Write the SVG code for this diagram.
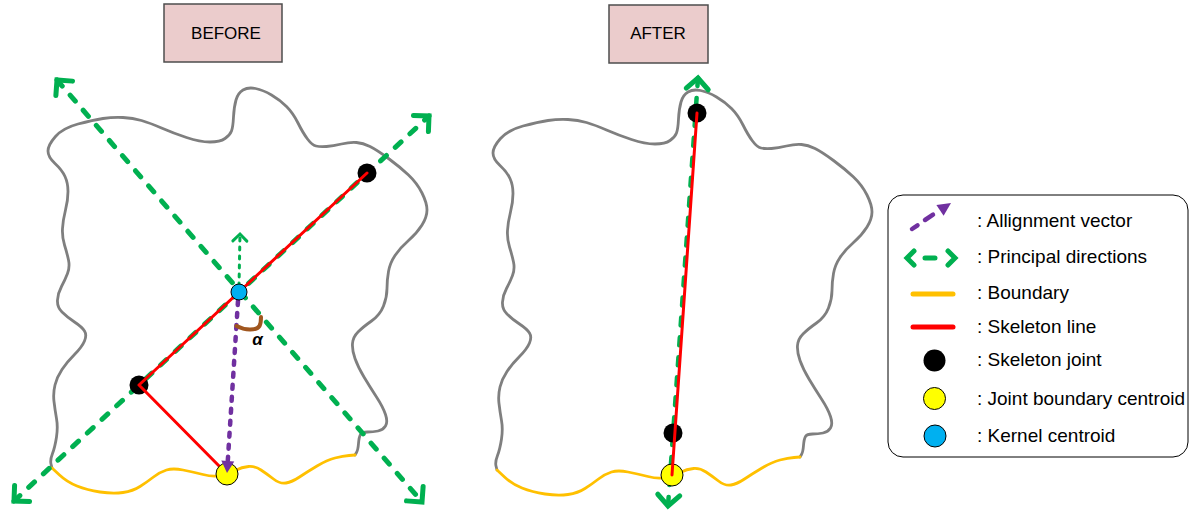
<svg xmlns="http://www.w3.org/2000/svg" width="1198" height="516" viewBox="0 0 1198 516">
  <style>
    .outline{fill:none;stroke:#7F7F7F;stroke-width:2.8;stroke-linejoin:round;stroke-linecap:round}
    .bound{fill:none;stroke:#FFC000;stroke-width:2.8;stroke-linejoin:round;stroke-linecap:round}
    .pd{fill:none;stroke:#00B050;stroke-width:5;stroke-linecap:round;stroke-dasharray:8 12}
    .pd-thin{fill:none;stroke:#00B050;stroke-width:3;stroke-linecap:round;stroke-dasharray:3 6}
    .skel{fill:none;stroke:#FF0000;stroke-width:3;stroke-linecap:round;stroke-linejoin:round}
    .av{fill:none;stroke:#7030A0;stroke-width:4.5;stroke-linecap:round;stroke-dasharray:4 8}
    .angle{fill:none;stroke:#A0561E;stroke-width:4;stroke-linecap:round}
    .joint{fill:#000}
    .jbc{fill:#FFFF00;stroke:#000;stroke-width:1}
    .kc{fill:#00B0F0;stroke:#000;stroke-width:1}
    .title rect{fill:#EBCCCC;stroke:#4D4D4D;stroke-width:1.5}
    text{font-family:"Liberation Sans",Arial,Helvetica,sans-serif;fill:#000}
    .title text{font-size:17px;text-anchor:middle}
    .legend text{font-size:19px}
    .sym-line{fill:none;stroke-width:5;stroke-linecap:round}
  </style>
  <defs>
    <!-- open chevron head for the principal directions -->
    <marker id="chev" markerUnits="userSpaceOnUse" markerWidth="30" markerHeight="30" refX="0" refY="0" orient="auto-start-reverse" style="overflow:visible">
      <path d="M-11,-11 L0,0 L-11,11" fill="none" stroke="#00B050" stroke-width="5" stroke-linecap="round" stroke-linejoin="miter"/>
    </marker>
    <marker id="chev-small" markerUnits="userSpaceOnUse" markerWidth="20" markerHeight="20" refX="0" refY="0" orient="auto" style="overflow:visible">
      <path d="M-7,-7 L0,0 L-7,7" fill="none" stroke="#00B050" stroke-width="3" stroke-linecap="round" stroke-linejoin="miter"/>
    </marker>
    <!-- solid head for the alignment vector -->
    <marker id="tri" markerUnits="userSpaceOnUse" markerWidth="20" markerHeight="20" refX="0" refY="0" orient="auto" style="overflow:visible">
      <path d="M-6,-6.5 L6,0 L-6,6.5 Z" fill="#7030A0"/>
    </marker>
    <!-- wavy region outline: grey free edge + yellow boundary edge -->
    <g id="region">
      <path class="outline" d="M52,468 L51,464 Q50,460 52.5,453.5 Q55,447 56.5,437 Q58,427 56.5,418.5 Q55,410 54,401.5 Q53,393 55,385 Q57,377 62,369.5 Q67,362 74.5,354.5 Q82,347 84.5,341 Q87,335 84.5,331 Q82,327 74.5,322 Q67,317 62,312 Q57,307 57.5,300 Q58,293 61.5,286.5 Q65,280 67.5,273.5 Q70,267 68.5,260 Q67,253 64.5,245 Q62,237 62.5,228.5 Q63,220 65.5,210 Q68,200 68,191.5 Q68,183 65,176.5 Q62,170 55,163.5 Q48,157 48,151 Q48,145 55.5,136.5 Q63,128 78,124 Q93,120 103,118.5 Q113,117 123,117.5 Q133,118 141.5,120.5 Q150,123 161.5,128 Q173,133 186.5,137.5 Q200,142 210,142 Q220,142 225,138.5 Q230,135 231.5,131 Q233,127 233.5,117 Q234,107 236,100 Q238,93 243,90 Q248,87 255.5,88.5 Q263,90 271.5,95 Q280,100 286.5,106.5 Q293,113 298,123 Q303,133 307.5,139 Q312,145 316,146 Q320,147 326.5,146.5 Q333,146 341.5,144 Q350,142 356.5,142.5 Q363,143 370,146.5 Q377,150 388.5,158.5 Q400,167 408.5,175 Q417,183 422,193 Q427,203 427,210 Q427,217 422,225 Q417,233 408.5,240.5 Q400,248 395,255.5 Q390,263 388.5,271.5 Q387,280 387,288.5 Q387,297 383.5,306 Q380,315 371.5,321 Q363,327 358,332 Q353,337 352.5,343.5 Q352,350 355,358.5 Q358,367 364,377 Q370,387 376.5,397 Q383,407 385.5,414.5 Q388,422 385.5,426 Q383,430 378,431 Q373,432 367.5,432 Q362,432 360.5,434.5 Q359,437 358.5,443.5 Q358,450 356.5,452.5 L355,455"/>
      <path class="bound" d="M52,468 L59.5,475 Q67,482 77,486 Q87,490 100,492 Q113,494 123,492.5 Q133,491 140,486.5 Q147,482 153.5,477 Q160,472 166.5,470 Q173,468 183,470 Q193,472 203,474.5 Q213,477 220.5,475.5 Q228,474 235,470.5 Q242,467 248.5,466.5 Q255,466 261,470 Q267,474 273.5,479 Q280,484 286,483 Q292,482 299.5,477 Q307,472 317,466 Q327,460 335,458 Q343,456 349,455.5 L355,455"/>
    </g>
  </defs>

  <!-- headers -->
  <g id="title-before" class="title">
    <rect x="164" y="4" width="118" height="58"/>
    <text x="226" y="39">BEFORE</text>
  </g>
  <g id="title-after" class="title">
    <rect x="609" y="5" width="99" height="58"/>
    <text x="658" y="39">AFTER</text>
  </g>

  <!-- regions -->
  <g id="region-before"><use href="#region"/></g>
  <g id="region-after"><use href="#region" transform="translate(445,2)"/></g>

  <!-- connectors: principal directions -->
  <g id="connectors">
    <path class="pd" d="M57,80 L422,502" marker-start="url(#chev)" marker-end="url(#chev)"/>
    <path class="pd" d="M14,501 L429,116" marker-start="url(#chev)" marker-end="url(#chev)"/>
    <path class="pd-thin" d="M239,286 L240,234" marker-end="url(#chev-small)"/>
    <path class="pd" style="stroke-width:4.5" d="M698,78 L668,506" marker-start="url(#chev)" marker-end="url(#chev)"/>
  </g>

  <!-- before: joints, skeleton, centroids -->
  <g id="joint-before-top"><circle class="joint" cx="367" cy="173" r="9.5"/></g>
  <g id="joint-before-bottom"><circle class="joint" cx="139" cy="385" r="9.5"/></g>
  <g id="skeleton-before"><path class="skel" d="M367,173 L139,385 L227,474"/></g>
  <g id="jbc-before"><circle class="jbc" cx="227" cy="474" r="11"/></g>
  <g id="alignment-vector"><path class="av" d="M238,301 L227.4,467" marker-end="url(#tri)"/></g>
  <g id="kernel-centroid"><circle class="kc" cx="239" cy="292" r="8"/></g>
  <g id="angle-alpha">
    <path class="angle" d="M236.5,326 C245,330.5 256,331 259.5,326 C261,323 261,319 261,317"/>
    <text x="257.5" y="345" font-size="17" font-weight="bold" font-style="italic" text-anchor="middle">α</text>
  </g>

  <!-- after: aligned skeleton -->
  <g id="jbc-after"><circle class="jbc" cx="672" cy="475" r="11"/></g>
  <g id="joint-after-top"><circle class="joint" cx="697" cy="113" r="9.5"/></g>
  <g id="joint-after-bottom"><circle class="joint" cx="673" cy="433" r="9.5"/></g>
  <g id="skeleton-after"><path class="skel" d="M697,113 L672,475"/></g>

  <!-- legend -->
  <g id="legend" class="legend">
    <rect x="888" y="195" width="300" height="262" rx="15" ry="15" fill="#fff" stroke="#000" stroke-width="1"/>
    <path d="M912,229 L917.5,225.3 M925,220 L933,214.7" fill="none" stroke="#7030A0" stroke-width="4.5" stroke-linecap="round"/>
    <polygon points="951,203 943.6,215.7 936.4,204.9" fill="#7030A0"/>
    <text x="977" y="227">: Allignment vector</text>
    <path d="M914,251 L907,258 L914,265 M925,258 L935,258 M948,251 L955,258 L948,265" fill="none" stroke="#00B050" stroke-width="5" stroke-linecap="round"/>
    <text x="977" y="263">: Principal directions</text>
    <path class="sym-line" stroke="#FFC000" d="M913,294 L953,294"/>
    <text x="977" y="299">: Boundary</text>
    <path class="sym-line" stroke="#FF0000" d="M913,327 L953,327"/>
    <text x="977" y="333">: Skeleton line</text>
    <circle class="joint" cx="934.5" cy="360.5" r="11"/>
    <text x="977" y="366">: Skeleton joint</text>
    <circle class="jbc" cx="934.5" cy="398.5" r="11"/>
    <text x="977" y="404.5">: Joint boundary centroid</text>
    <circle class="kc" cx="935" cy="436" r="11"/>
    <text x="977" y="442">: Kernel centroid</text>
  </g>
</svg>
